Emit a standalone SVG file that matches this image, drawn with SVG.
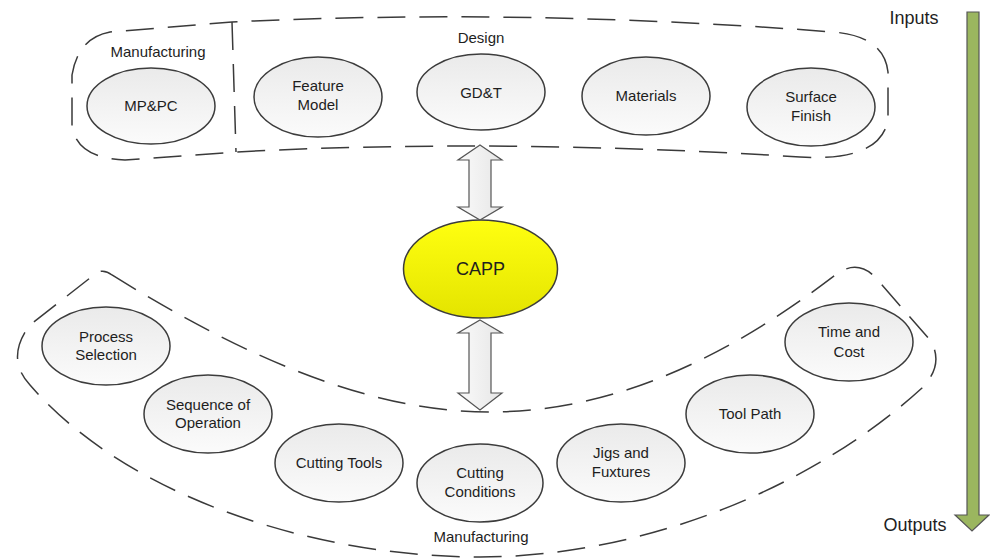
<svg xmlns="http://www.w3.org/2000/svg" width="990" height="559" viewBox="0 0 990 559">
<defs>
<linearGradient id="gNode" x1="0" y1="0" x2="0" y2="1">
<stop offset="0" stop-color="#eaeaea"/>
<stop offset="1" stop-color="#fbfbfb"/>
</linearGradient>
<linearGradient id="gCapp" x1="0" y1="0" x2="0" y2="1">
<stop offset="0" stop-color="#ffff10"/>
<stop offset="1" stop-color="#e4e400"/>
</linearGradient>
<linearGradient id="gArrow" x1="0" y1="0" x2="1" y2="0">
<stop offset="0" stop-color="#fafafa"/>
<stop offset="1" stop-color="#e6e6e6"/>
</linearGradient>
</defs>
<style>
text{font-family:"Liberation Sans",Arial,sans-serif;fill:#1e1e1e;text-anchor:middle}
.t{font-size:15px}
.big{font-size:18px}
.node{fill:url(#gNode);stroke:#3c3c3c;stroke-width:1.5}
.dash{fill:none;stroke:#3a3a3a;stroke-width:1.5;stroke-dasharray:28 14}
.dbl{fill:url(#gArrow);stroke:#555;stroke-width:1.2}
</style>
<rect width="990" height="559" fill="#ffffff"/>

<g id="input-boundary">
<path class="dash" d="M110,32 Q78,38 72,75 L72,125 Q76,158 125,160 L236,152 Q500,138 800,157 Q880,162 888,120 L888,72 Q884,36 833,32 Q520,8 232,22 L110,32 Z"/>
<path class="dash" d="M232,22 L236,152"/>
<text class="t" x="158" y="57">Manufacturing</text>
<text class="t" x="481" y="43">Design</text>
</g>

<g id="output-boundary">
<path class="dash" d="M112,275 C230,348 360,412 490,412 C620,412 735,352 838,273 Q858,260 875,277 L930,340 Q945,364 922,388 C810,490 640,557 480,557 C320,557 130,500 30,385 Q5,358 30,325 L90,278 Q101,266 112,275 Z"/>
<text class="t" x="481" y="542">Manufacturing</text>
</g>

<g id="node-mppc"><ellipse class="node" cx="151" cy="106" rx="64" ry="38"/><text class="t" x="151" y="111">MP&amp;PC</text></g>
<g id="node-feature-model"><ellipse class="node" cx="318" cy="97" rx="64" ry="40"/><text class="t" x="318" y="91">Feature</text><text class="t" x="318" y="110">Model</text></g>
<g id="node-gdt"><ellipse class="node" cx="481" cy="92" rx="64" ry="38"/><text class="t" x="481" y="98">GD&amp;T</text></g>
<g id="node-materials"><ellipse class="node" cx="646" cy="96" rx="64" ry="39"/><text class="t" x="646" y="101">Materials</text></g>
<g id="node-surface-finish"><ellipse class="node" cx="811" cy="107" rx="64" ry="39"/><text class="t" x="811" y="102">Surface</text><text class="t" x="811" y="121">Finish</text></g>

<g id="node-capp"><ellipse cx="480.5" cy="269" rx="77" ry="49" fill="url(#gCapp)" stroke="#3c3c3c" stroke-width="1.5"/><text class="big" x="480.5" y="275">CAPP</text></g>

<g id="node-process-selection"><ellipse class="node" cx="106" cy="346" rx="64" ry="39"/><text class="t" x="106" y="342">Process</text><text class="t" x="106" y="360">Selection</text></g>
<g id="node-sequence"><ellipse class="node" cx="208" cy="414" rx="64" ry="39"/><text class="t" x="208" y="410">Sequence of</text><text class="t" x="208" y="428">Operation</text></g>
<g id="node-cutting-tools"><ellipse class="node" cx="339" cy="463" rx="64" ry="39"/><text class="t" x="339" y="468">Cutting Tools</text></g>
<g id="node-cutting-conditions"><ellipse class="node" cx="480" cy="483" rx="63" ry="39"/><text class="t" x="480" y="478">Cutting</text><text class="t" x="480" y="497">Conditions</text></g>
<g id="node-jigs"><ellipse class="node" cx="621" cy="463" rx="64" ry="39"/><text class="t" x="621" y="458">Jigs and</text><text class="t" x="621" y="477">Fuxtures</text></g>
<g id="node-tool-path"><ellipse class="node" cx="750" cy="414" rx="64" ry="39"/><text class="t" x="750" y="419">Tool Path</text></g>
<g id="node-time-cost"><ellipse class="node" cx="849" cy="342" rx="64" ry="39"/><text class="t" x="849" y="337">Time and</text><text class="t" x="849" y="357">Cost</text></g>

<g id="connectors">
<polygon class="dbl" points="480,145 502,160 491,160 491,207 502,207 480,220 458,207 469,207 469,160 458,160"/>
<polygon class="dbl" points="480,320 502,333 491,333 491,393 502,393 480,410 458,393 469,393 469,333 458,333"/>
<polygon points="967,12 979,12 979,515 989,515 972,531 955,515 967,515" fill="#9bb65f" stroke="#555" stroke-width="1.2"/>
</g>

<g id="flow-labels">
<text class="big" x="914" y="24">Inputs</text>
<text class="big" x="915" y="531">Outputs</text>
</g>
</svg>
